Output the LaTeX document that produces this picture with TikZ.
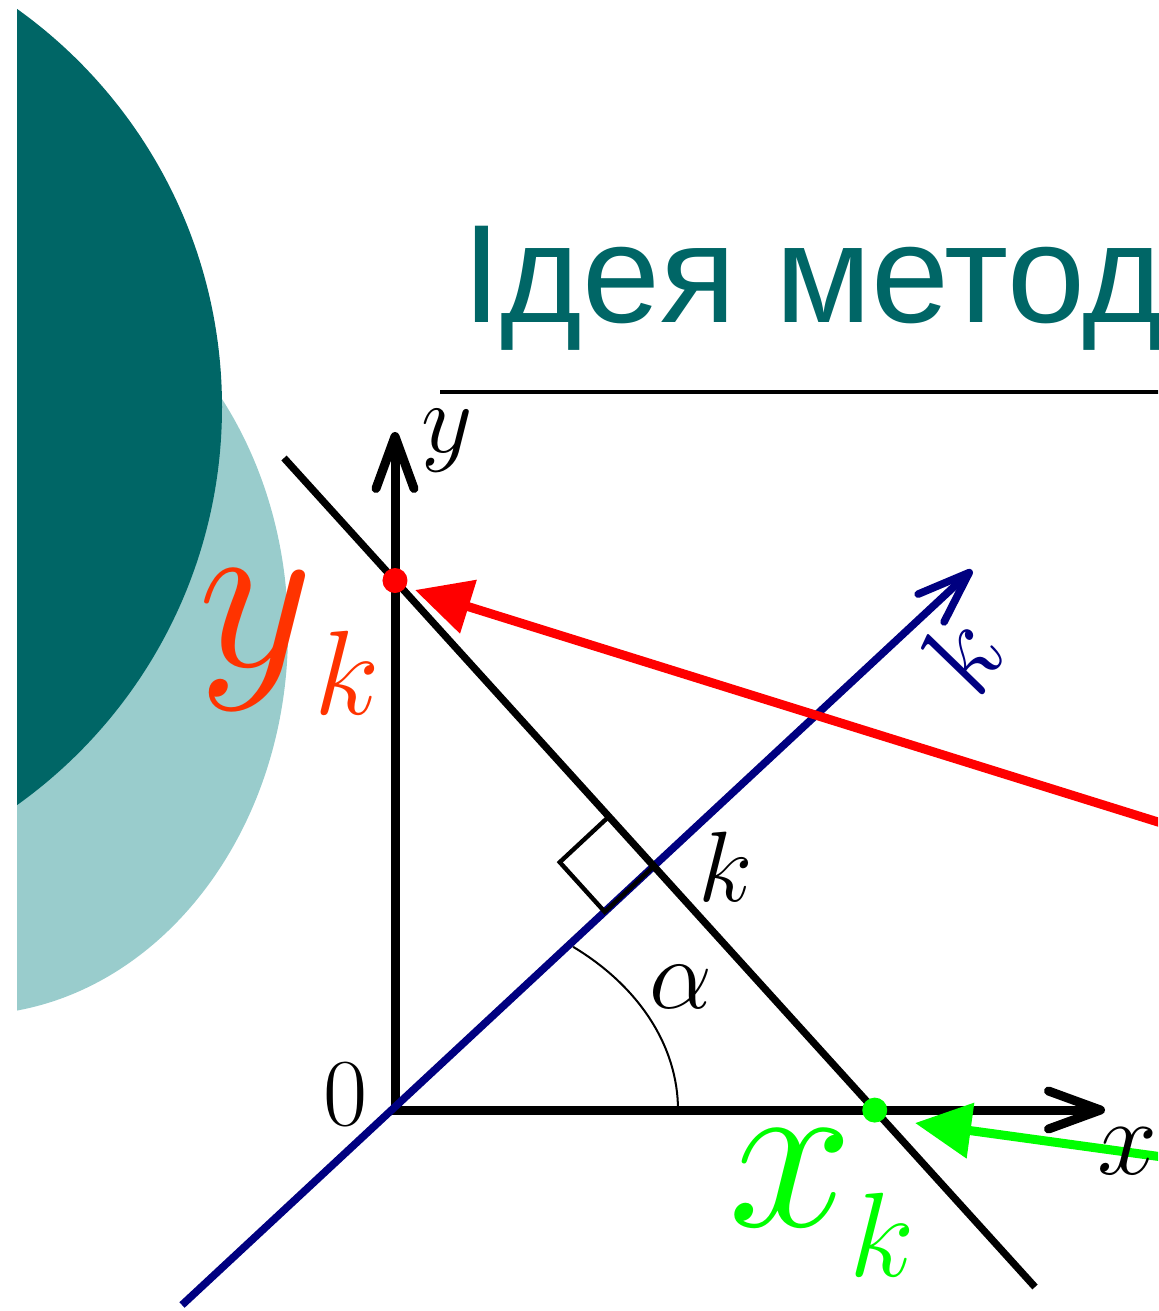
\RequirePackage{fix-cm}
\documentclass[tikz,border=0pt]{standalone}
\usepackage{fontspec}
\newfontfamily\titlefont{Liberation Sans}
\usetikzlibrary{arrows.meta,calc}
\definecolor{darkteal}{HTML}{006666}
\definecolor{lightteal}{HTML}{99CCCC}
\definecolor{navyblue}{HTML}{000080}
\definecolor{arrowred}{HTML}{FF0000}
\definecolor{labelred}{HTML}{FF3300}
\definecolor{brightgreen}{HTML}{00FF00}
\newcommand\mysize[1]{\fontsize{#1}{#1}\selectfont}
\tikzset{
  axtip/.tip={Straight Barb[length=26pt,width=19pt,round]},
  filltip/.tip={Triangle[length=28pt,width=27pt]},
  axisline/.style={line width=4.5pt},
  lbl/.style={inner sep=0pt, outer sep=0pt},
  dotmark/.style={circle, inner sep=0pt, minimum size=12.5pt},
}
\begin{document}
\begin{tikzpicture}[x=0.5pt,y=-0.5pt]
\useasboundingbox (0,0) rectangle (1158,1311);
\clip (0,0) rectangle (1158,1311);
% background shapes
\begin{scope}
  \clip (17,0) rectangle (1158,1311);
  \fill[lightteal] (-32,632) ellipse [x radius=320, y radius=383];
  \fill[darkteal] (-267,407) circle [radius=489];
\end{scope}
% title
\node[lbl, anchor=base west, text=darkteal, font={\titlefont\mysize{70pt}}] (title) at (462,322) {Ідея метод};
\coordinate (ruleL) at (440,392);
\coordinate (ruleR) at (1160,392);
\draw[line width=2pt] (ruleL) -- (ruleR);
% key points
\coordinate (O) at (395,1110);
\coordinate (Ytip) at (395,432);
\coordinate (Xtip) at (1105,1110);
\coordinate (Bs) at (182,1305);
\coordinate (Be) at (972,570);
\coordinate (Ls) at (284,458);
\coordinate (Le) at (1035,1287);
\coordinate (K) at (intersection of Ls--Le and Bs--Be);
% axes
\draw[axisline, axtip-axtip] (Ytip) -- (O) -- (Xtip);
% normal line
\draw[line width=3.8pt, navyblue, -axtip] (Bs) -- (Be);
% the line
\draw[line width=3.6pt] (Ls) -- (Le);
% right angle mark
\coordinate (SqA) at ($(K)!33.5pt!(Ls)$);
\coordinate (SqC) at ($(K)!33.5pt!(Bs)$);
\coordinate (SqB) at ($(SqA)+(SqC)-(K)$);
\draw[line width=2.2pt] (K) -- (SqA) -- (SqB) -- (SqC) -- cycle;
% angle arc
\draw[line width=1pt] ($(O)+(-51:283 and 210)$) arc[start angle=-51, end angle=0, x radius=283, y radius=210];
% intercept dots
\node[dotmark, fill=arrowred] (Ykdot) at (intersection of Ls--Le and O--Ytip) {};
\node[dotmark, fill=brightgreen] (Xkdot) at (intersection of Ls--Le and O--Xtip) {};
% pointing arrows
\coordinate (Rs) at (1175,827.3);
\coordinate (Rt) at (415,590);
\draw[arrowred, line width=4.5pt, -filltip] (Rs) -- (Rt);
\coordinate (Gs) at (1175,1158.7);
\coordinate (Gt) at (915,1123);
\draw[brightgreen, line width=4.5pt, -filltip] (Gs) -- (Gt);
% labels
\node[lbl, font=\mysize{50pt}] (ylab) at (447,441) {$y$};
\node[lbl, font=\mysize{54pt}] (xlab) at (1128,1151) {$x$};
\node[lbl, font=\mysize{48pt}] (zero) at (346,1095) {$0$};
\node[lbl, font=\mysize{50pt}] (klab) at (726,867) {$k$};
\node[lbl, font=\mysize{50pt}] (alab) at (681,987) {$\alpha$};
\node[lbl, font=\mysize{56pt}, text=navyblue, rotate=60] (kblue) at (961,655) {$k$};
\node[lbl, font=\mysize{112pt}, text=labelred] (ykmain) at (256,640) {$y$};
\node[lbl, font=\mysize{60pt}, text=labelred] (yksub) at (347,673) {$k$};
\node[lbl, font=\mysize{112pt}, text=brightgreen] (xkmain) at (791,1178) {$x$};
\node[lbl, font=\mysize{60pt}, text=brightgreen] (xksub) at (882,1235) {$k$};
\end{tikzpicture}
\end{document}
